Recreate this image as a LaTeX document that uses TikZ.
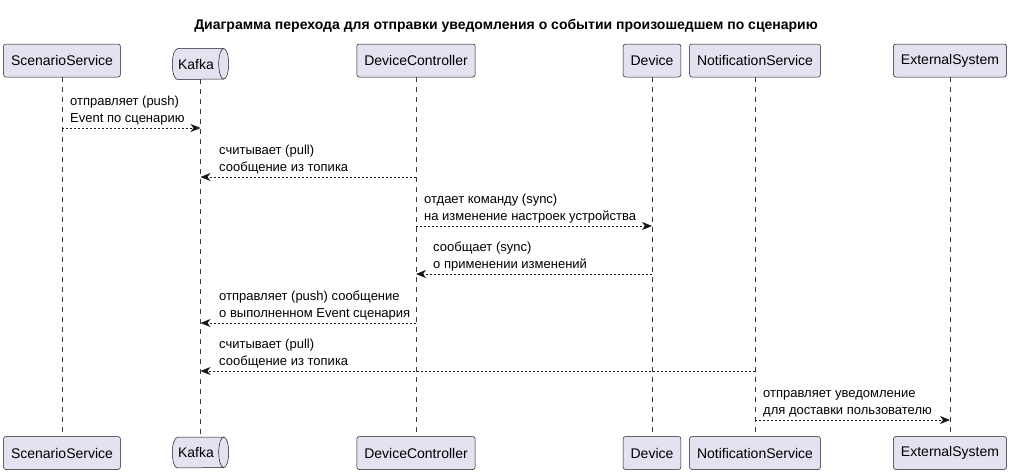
\documentclass[tikz,border=0pt]{standalone}
\usepackage{fontspec}
\setmainfont{Liberation Sans}
\usetikzlibrary{arrows.meta}
\definecolor{partfill}{HTML}{E2E2F0}
\definecolor{umlline}{HTML}{181818}

\begin{document}
\begin{tikzpicture}
      [x=1pt, y=-1pt,
      part/.style={draw=umlline, fill=partfill, rectangle, rounded corners=2.5pt, line width=0.5pt, minimum height=33pt, inner xsep=7.5pt, font=\fontsize{14}{16}\selectfont},
      queue/.style={rectangle, minimum width=56pt, minimum height=30.5pt, inner sep=0pt},
      queue line/.style={draw=umlline, fill=partfill, line width=0.5pt},
      queue text/.style={inner sep=0pt, font=\fontsize{14}{16}\selectfont},
      lifeline/.style={draw=umlline!85, line width=0.5pt, dash pattern=on 5pt off 5pt},
      msg/.style={draw=umlline, line width=1pt, dash pattern=on 2pt off 2pt, -{Stealth[length=10pt, width=8pt, inset=3pt]}},
      lbl/.style={anchor=south west, inner sep=0pt, align=left, text depth=0pt, font=\fontsize{13}{17}\selectfont},
      ]

      \useasboundingbox[fill=white] (0,0) rectangle (1011,474);

      \node[anchor=base, font=\bfseries\fontsize{14}{16}\selectfont] (title) at (506,29.5)
        {Диаграмма перехода для отправки уведомления о событии произошедшем по сценарию};

      % participants, top row
      \node[part] (ssT) at (62,60.5) {ScenarioService};
      \node[queue] (kfT) at (200.5,64) {};
      \node[part] (dcT) at (416,60.5) {DeviceController};
      \node[part] (dvT) at (652,60.5) {Device};
      \node[part] (nsT) at (755,60.5) {NotificationService};
      \node[part] (esT) at (950,60.5) {ExternalSystem};

      % participants, bottom row
      \node[part] (ssB) at (62,453) {ScenarioService};
      \node[queue] (kfB) at (200.5,452.5) {};
      \node[part] (dcB) at (416,453) {DeviceController};
      \node[part] (dvB) at (652,453) {Device};
      \node[part] (nsB) at (755,453) {NotificationService};
      \node[part] (esB) at (950,453) {ExternalSystem};

      % Kafka drawn as a queue
      \foreach \q in {kfT,kfB} {
        \path[queue line] ([xshift=5pt]\q.north west) -- ([xshift=-5pt]\q.north east)
          arc[start angle=90, end angle=-90, x radius=5pt, y radius=15.25pt]
          -- ([xshift=5pt]\q.south west)
          arc[start angle=270, end angle=90, x radius=5pt, y radius=15.25pt] -- cycle;
        \draw[queue line, fill=none] ([xshift=-5pt]\q.north east)
          arc[start angle=90, end angle=270, x radius=5pt, y radius=15.25pt];
        \node[queue text] (\q label) at ([xshift=-4.5pt]\q.center) {Kafka};
      }

      % lifelines
      \draw[lifeline] (ssT) -- (ssB);
      \draw[lifeline] (kfT) -- (kfB);
      \draw[lifeline] (dcT) -- (dcB);
      \draw[lifeline] (dvT) -- (dvB);
      \draw[lifeline] (nsT) -- (nsB);
      \draw[lifeline] (esT) -- (esB);

      % messages
      \draw[msg] (ssT.center |- 0,128) -- (kfT.center |- 0,128);
      \node[lbl] (m1) at (70,122.5) {отправляет (push)\\Event по сценарию};

      \draw[msg] (dcT.center |- 0,177) -- (kfT.center |- 0,177);
      \node[lbl] (m2) at (219,171.5) {считывает (pull)\\сообщение из топика};

      \draw[msg] (dcT.center |- 0,226) -- (dvT.center |- 0,226);
      \node[lbl] (m3) at (424,220.5) {отдает команду (sync)\\на изменение настроек устройства};

      \draw[msg] (dvT.center |- 0,274) -- (dcT.center |- 0,274);
      \node[lbl] (m4) at (433,268.5) {сообщает (sync)\\о применении изменений};

      \draw[msg] (dcT.center |- 0,323) -- (kfT.center |- 0,323);
      \node[lbl] (m5) at (219,317.5) {отправляет (push) сообщение\\о выполненном Event сценария};

      \draw[msg] (nsT.center |- 0,371) -- (kfT.center |- 0,371);
      \node[lbl] (m6) at (219,365.5) {считывает (pull)\\сообщение из топика};

      \draw[msg] (nsT.center |- 0,420) -- (esT.center |- 0,420);
      \node[lbl] (m7) at (763,414.5) {отправляет уведомление\\для доставки пользователю};
\end{tikzpicture}
\end{document}
